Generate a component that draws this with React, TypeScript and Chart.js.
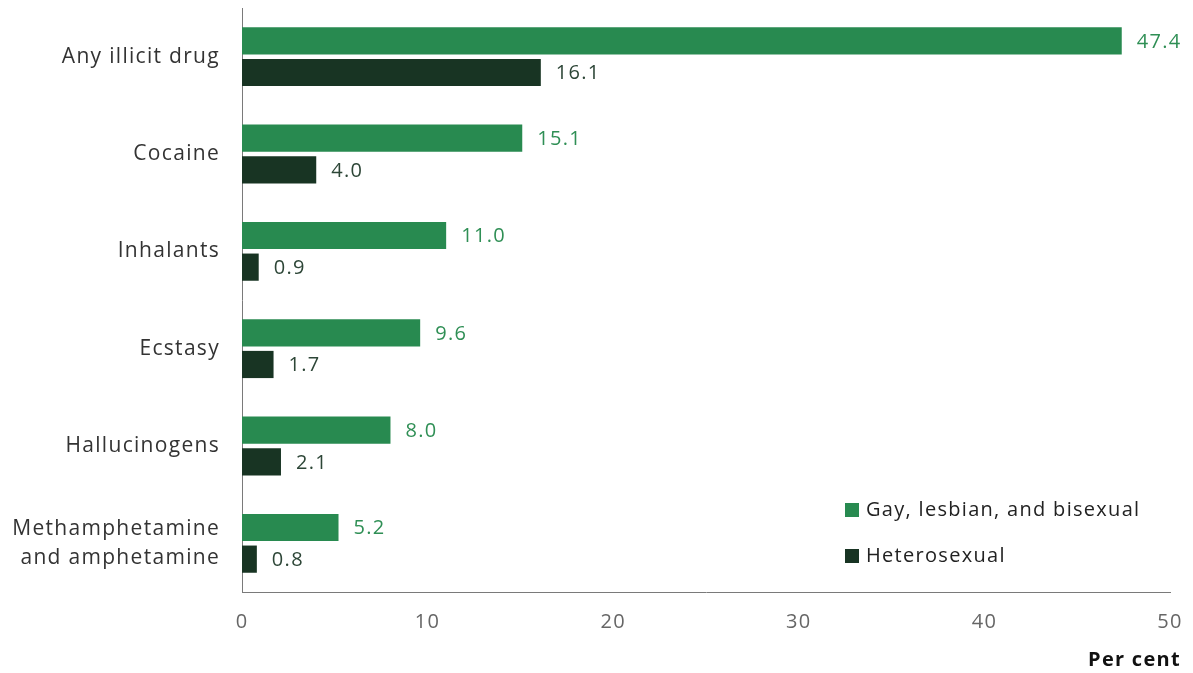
import React, { useEffect, useRef } from "react";
import { Chart, registerables } from "chart.js";

Chart.register(...registerables);

const categories: (string | string[])[] = [
  "Any illicit drug",
  "Cocaine",
  "Inhalants",
  "Ecstasy",
  "Hallucinogens",
  ["Methamphetamine", "and amphetamine"],
];
const glbValues = [47.4, 15.1, 11.0, 9.6, 8.0, 5.2];
const heteroValues = [16.1, 4.0, 0.9, 1.7, 2.1, 0.8];
const seriesNames = ["Gay, lesbian, and bisexual", "Heterosexual"];
const xTicks = [0, 10, 20, 30, 40, 50];
const axisTitle = "Per cent";

const GREEN = "#288a50";
const DARK = "#183423";
const GREEN_LABEL = "#2f8f55";
const DARK_LABEL = "#2d4637";
const FONT = "'Open Sans', sans-serif";
const SPACING = "1.3px";

const spacingPlugin = {
  id: "spacing",
  beforeUpdate(chart: any) {
    chart.ctx.letterSpacing = SPACING;
  },
  beforeLayout(chart: any) {
    chart.ctx.letterSpacing = SPACING;
  },
  beforeDraw(chart: any) {
    chart.ctx.letterSpacing = SPACING;
  },
};

const valueLabels = {
  id: "valueLabels",
  afterDatasetsDraw(chart: any) {
    const ctx = chart.ctx;
    ctx.save();
    ctx.letterSpacing = SPACING;
    ctx.font = `20px ${FONT}`;
    ctx.textBaseline = "middle";
    ctx.textAlign = "left";
    chart.data.datasets.forEach((ds: any, di: number) => {
      const meta = chart.getDatasetMeta(di);
      ctx.fillStyle = di === 0 ? GREEN_LABEL : DARK_LABEL;
      meta.data.forEach((bar: any, i: number) => {
        ctx.fillText(Number(ds.data[i]).toFixed(1), bar.x + 15, bar.y + 1);
      });
    });
    ctx.restore();
  },
};

const customLegend = {
  id: "customLegend",
  afterDraw(chart: any) {
    const ctx = chart.ctx;
    const { right, bottom } = chart.chartArea;
    ctx.save();
    ctx.letterSpacing = SPACING;
    ctx.font = `20px ${FONT}`;
    ctx.textBaseline = "middle";
    ctx.textAlign = "left";
    const colors = [GREEN, DARK];
    seriesNames.forEach((name, i) => {
      const y = bottom - 82 + i * 46;
      const x = right - 325;
      ctx.fillStyle = colors[i];
      ctx.fillRect(x, y - 7, 14, 14);
      ctx.fillStyle = "#222";
      ctx.fillText(name, x + 21, y);
    });
    ctx.font = `bold 20px ${FONT}`;
    ctx.fillStyle = "#111";
    ctx.textAlign = "right";
    ctx.fillText(axisTitle, right + 11, bottom + 68);
    ctx.restore();
  },
};

export default function App() {
  const ref = useRef<HTMLCanvasElement | null>(null);
  useEffect(() => {
    if (!ref.current) return;
    const chart = new Chart(ref.current, {
      type: "bar",
      data: {
        labels: categories as any,
        datasets: [
          { label: seriesNames[0], data: glbValues, backgroundColor: GREEN },
          { label: seriesNames[1], data: heteroValues, backgroundColor: DARK },
        ],
      },
      options: {
        indexAxis: "y",
        animation: false,
        responsive: true,
        maintainAspectRatio: false,
        datasets: { bar: { categoryPercentage: 0.65, barPercentage: 0.86 } },
        layout: { padding: { top: 8, right: 23, left: 0, bottom: 0 } },
        plugins: { legend: { display: false }, tooltip: { enabled: false } },
        scales: {
          x: {
            min: 0,
            max: 50,
            afterBuildTicks: (s: any) => {
              s.ticks = xTicks.map((v) => ({ value: v }));
            },
            afterFit: (s: any) => {
              s.height = 81;
              s.paddingLeft = 0;
              s.paddingRight = 0;
            },
            grid: { display: false, drawTicks: false },
            border: { display: true, color: "#7a7a7a", width: 1 },
            ticks: {
              padding: 18,
              color: "#666",
              font: { family: FONT, size: 20 },
              maxRotation: 0,
            },
          },
          y: {
            afterFit: (s: any) => {
              s.width = 242;
              s.paddingTop = 0;
              s.paddingBottom = 0;
            },
            grid: { display: false, drawTicks: false },
            border: { display: true, color: "#7a7a7a", width: 1 },
            ticks: {
              padding: 22,
              color: "#333",
              font: { family: FONT, size: 21, lineHeight: 1.4 },
            },
          },
        },
      },
      plugins: [spacingPlugin, valueLabels, customLegend],
    });
    return () => chart.destroy();
  }, []);
  return (
    <div style={{ position: "fixed", left: 0, top: 0, width: 1193, height: 673, background: "#fff" }}>
      <canvas ref={ref} />
    </div>
  );
}
